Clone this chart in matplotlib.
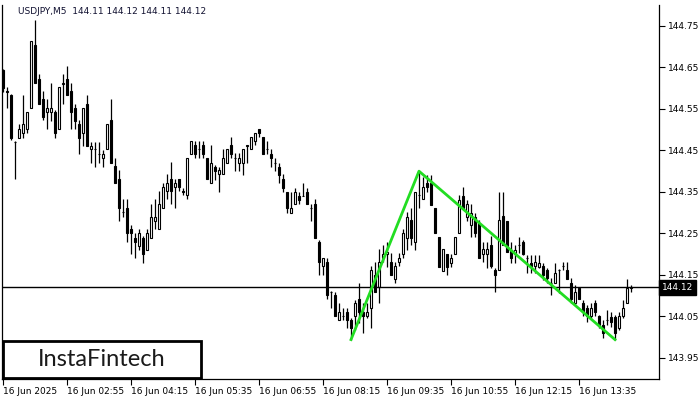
import matplotlib
matplotlib.use("Agg")
import matplotlib.pyplot as plt
from matplotlib.patches import Rectangle
import numpy as np

# USDJPY M5 candles
open_ = [
    144.644, 144.593, 144.584, 144.471, 144.480, 144.492, 144.502, 144.552, 144.704, 144.622,
    144.574, 144.543, 144.543, 144.543, 144.502, 144.610, 144.622, 144.593, 144.552, 144.514,
    144.492, 144.562, 144.454, 144.454, 144.442, 144.432, 144.454, 144.524, 144.413, 144.381,
    144.302, 144.312, 144.261, 144.239, 144.220, 144.239, 144.210, 144.239, 144.280, 144.261,
    144.312, 144.352, 144.381, 144.362, 144.381, 144.352, 144.343, 144.442, 144.463, 144.454,
    144.463, 144.432, 144.372, 144.410, 144.393, 144.393, 144.420, 144.463, 144.432, 144.420,
    144.420, 144.461, 144.454, 144.473, 144.502, 144.483, 144.454, 144.442, 144.420, 144.410,
    144.381, 144.350, 144.299, 144.321, 144.340, 144.340, 144.350, 144.312, 144.321, 144.230,
    144.172, 144.181, 144.109, 144.102, 144.042, 144.051, 144.061, 144.042, 144.051, 144.092,
    144.061, 144.051, 144.071, 144.150, 144.121, 144.191, 144.201, 144.181, 144.140, 144.181,
    144.201, 144.239, 144.283, 144.230, 144.343, 144.333, 144.372, 144.372, 144.312, 144.242,
    144.160, 144.201, 144.179, 144.201, 144.251, 144.340, 144.290, 144.271, 144.290, 144.275,
    144.201, 144.201, 144.222, 144.162, 144.162, 144.292, 144.280, 144.210, 144.201, 144.222,
    144.230, 144.191, 144.179, 144.172, 144.169, 144.172, 144.162, 144.131, 144.131, 144.162,
    144.172, 144.162, 144.131, 144.083, 144.119, 144.083, 144.071, 144.051, 144.083, 144.051,
    144.030, 144.042, 144.049, 144.049, 144.022, 144.051, 144.083, 144.119,
]
high = [
    144.646, 144.603, 144.586, 144.473, 144.514, 144.584, 144.543, 144.714, 144.765, 144.634,
    144.593, 144.574, 144.613, 144.548, 144.603, 144.634, 144.654, 144.613, 144.562, 144.524,
    144.552, 144.584, 144.471, 144.471, 144.471, 144.451, 144.514, 144.574, 144.432, 144.403,
    144.333, 144.333, 144.271, 144.251, 144.261, 144.244, 144.261, 144.321, 144.333, 144.352,
    144.372, 144.393, 144.422, 144.381, 144.381, 144.360, 144.432, 144.473, 144.473, 144.473,
    144.473, 144.432, 144.463, 144.415, 144.410, 144.454, 144.454, 144.483, 144.444, 144.444,
    144.454, 144.463, 144.483, 144.492, 144.502, 144.483, 144.473, 144.454, 144.432, 144.420,
    144.393, 144.350, 144.350, 144.360, 144.350, 144.372, 144.360, 144.321, 144.333, 144.234,
    144.191, 144.191, 144.110, 144.109, 144.083, 144.071, 144.071, 144.046, 144.090, 144.131,
    144.083, 144.083, 144.172, 144.181, 144.213, 144.222, 144.230, 144.203, 144.181, 144.203,
    144.261, 144.302, 144.312, 144.350, 144.398, 144.386, 144.391, 144.391, 144.312, 144.242,
    144.213, 144.201, 144.201, 144.242, 144.343, 144.362, 144.331, 144.321, 144.299, 144.283,
    144.230, 144.230, 144.244, 144.167, 144.350, 144.350, 144.280, 144.230, 144.222, 144.242,
    144.234, 144.198, 144.198, 144.198, 144.198, 144.179, 144.167, 144.143, 144.179, 144.163,
    144.181, 144.181, 144.143, 144.126, 144.119, 144.090, 144.078, 144.083, 144.090, 144.054,
    144.042, 144.066, 144.061, 144.054, 144.061, 144.090, 144.140, 144.126,
]
low = [
    144.591, 144.552, 144.475, 144.381, 144.480, 144.480, 144.492, 144.552, 144.613, 144.562,
    144.524, 144.502, 144.521, 144.480, 144.502, 144.562, 144.584, 144.502, 144.502, 144.442,
    144.461, 144.461, 144.420, 144.410, 144.420, 144.410, 144.454, 144.420, 144.372, 144.280,
    144.290, 144.230, 144.201, 144.191, 144.210, 144.179, 144.210, 144.239, 144.261, 144.261,
    144.312, 144.333, 144.321, 144.312, 144.352, 144.343, 144.333, 144.442, 144.432, 144.432,
    144.432, 144.381, 144.372, 144.379, 144.350, 144.393, 144.420, 144.432, 144.401, 144.401,
    144.391, 144.420, 144.454, 144.463, 144.483, 144.442, 144.442, 144.410, 144.401, 144.372,
    144.350, 144.299, 144.299, 144.321, 144.321, 144.340, 144.321, 144.280, 144.239, 144.150,
    144.150, 144.092, 144.071, 144.051, 144.042, 144.042, 144.022, 143.993, 144.018, 144.034,
    144.010, 144.046, 144.022, 144.109, 144.083, 144.181, 144.169, 144.150, 144.131, 144.172,
    144.191, 144.210, 144.222, 144.210, 144.312, 144.333, 144.350, 144.319, 144.251, 144.169,
    144.160, 144.150, 144.169, 144.201, 144.251, 144.312, 144.280, 144.242, 144.242, 144.191,
    144.181, 144.167, 144.167, 144.109, 144.162, 144.222, 144.206, 144.179, 144.179, 144.203,
    144.198, 144.155, 144.155, 144.155, 144.167, 144.138, 144.131, 144.102, 144.131, 144.107,
    144.162, 144.140, 144.083, 144.078, 144.092, 144.051, 144.037, 144.046, 144.051, 144.022,
    143.998, 144.030, 144.025, 143.993, 144.018, 144.046, 144.083, 144.109,
]
close = [
    144.601, 144.591, 144.480, 144.470, 144.502, 144.514, 144.543, 144.714, 144.613, 144.562,
    144.531, 144.552, 144.552, 144.492, 144.603, 144.613, 144.584, 144.543, 144.521, 144.480,
    144.552, 144.461, 144.461, 144.453, 144.441, 144.442, 144.514, 144.420, 144.372, 144.312,
    144.301, 144.251, 144.251, 144.230, 144.251, 144.201, 144.251, 144.290, 144.290, 144.321,
    144.362, 144.372, 144.352, 144.372, 144.362, 144.351, 144.432, 144.473, 144.442, 144.453,
    144.442, 144.381, 144.420, 144.401, 144.403, 144.432, 144.454, 144.442, 144.431, 144.432,
    144.454, 144.463, 144.483, 144.492, 144.492, 144.442, 144.453, 144.432, 144.419, 144.391,
    144.360, 144.312, 144.312, 144.350, 144.331, 144.339, 144.321, 144.311, 144.239, 144.181,
    144.191, 144.102, 144.108, 144.051, 144.061, 144.050, 144.042, 144.022, 144.083, 144.061,
    144.051, 144.061, 144.162, 144.109, 144.181, 144.201, 144.206, 144.150, 144.172, 144.191,
    144.251, 144.290, 144.239, 144.350, 144.342, 144.362, 144.362, 144.319, 144.251, 144.169,
    144.213, 144.169, 144.191, 144.242, 144.331, 144.312, 144.321, 144.299, 144.251, 144.191,
    144.213, 144.213, 144.172, 144.150, 144.283, 144.222, 144.206, 144.191, 144.210, 144.221,
    144.201, 144.190, 144.172, 144.181, 144.179, 144.150, 144.143, 144.130, 144.155, 144.161,
    144.171, 144.140, 144.092, 144.109, 144.092, 144.061, 144.051, 144.071, 144.061, 144.030,
    144.010, 144.041, 144.037, 144.010, 144.051, 144.071, 144.119, 144.121,
]

# triple-point pattern (candle index, price)
pattern_idx = [87, 104, 153]
pattern_px = [143.994, 144.400, 143.994]

current_price = 144.12
price_ticks = [143.95, 144.05, 144.15, 144.25, 144.35, 144.45, 144.55, 144.65, 144.75]
time_tick_idx = [0, 16, 32, 48, 64, 80, 96, 112, 128, 144]
time_labels = ["16 Jun 2025", "16 Jun 02:55", "16 Jun 04:15", "16 Jun 05:35",
               "16 Jun 06:55", "16 Jun 08:15", "16 Jun 09:35", "16 Jun 10:55",
               "16 Jun 12:15", "16 Jun 13:35"]

fig = plt.figure(figsize=(7, 4), dpi=100)
ax = fig.add_axes([2 / 700, 21 / 400, 657 / 700, 374 / 400])

o = np.array(open_)
c = np.array(close)
h = np.array(high)
l = np.array(low)
x = np.arange(len(o))

ax.vlines(x, l, h, color="black", linewidth=0.9, zorder=1)
up = c >= o
body_bot = np.minimum(o, c)
body_h = np.maximum(np.abs(c - o), 0.0004)
ax.bar(x[up], body_h[up], bottom=body_bot[up], width=0.72, color="white",
       edgecolor="black", linewidth=0.8, zorder=2)
ax.bar(x[~up], body_h[~up], bottom=body_bot[~up], width=0.72, color="black",
       edgecolor="black", linewidth=0.8, zorder=2)

ax.axhline(current_price, color="black", linewidth=1, zorder=3)
ax.plot(pattern_idx, pattern_px, color="#22dd22", linewidth=2, zorder=4)

ax.set_xlim(-0.25, 164)
ax.set_ylim(143.899, 144.8006)

ax.yaxis.tick_right()
ax.set_yticks(price_ticks)
ax.set_yticklabels([f"{p:.2f}" for p in price_ticks])
ax.set_xticks(time_tick_idx)
ax.set_xticklabels(time_labels, ha="left")
ax.tick_params(axis="both", labelsize=6.5, length=4, width=0.8, color="black")
ax.tick_params(axis="y", pad=2.5)
ax.tick_params(axis="x", pad=2)
ax.spines["top"].set_visible(False)
for s in ["left", "right", "bottom"]:
    ax.spines[s].set_linewidth(0.9)

# current price tag on the price scale
ax.text(1.004, current_price, f"{current_price:.2f}", transform=ax.get_yaxis_transform(),
        fontsize=6.5, color="white", va="center", ha="left",
        bbox=dict(boxstyle="square,pad=0.3", fc="black", ec="black"))

fig.text(18 / 700, 1 - 12 / 400, "USDJPY,M5  144.11 144.12 144.11 144.12",
         fontsize=6.5, color="#101030", va="center", ha="left")

# logo
fig.patches.append(Rectangle((3 / 700, 1 - 378 / 400), 198 / 700, 37 / 400,
                             transform=fig.transFigure, fill=True, fc="white",
                             ec="black", linewidth=2, zorder=5))
fig.text(102 / 700, 1 - 360 / 400, "InstaFintech", fontsize=17, family="Lato",
         color="#1a1a1a", ha="center", va="center", zorder=6)

fig.savefig("out.png", dpi=100)
